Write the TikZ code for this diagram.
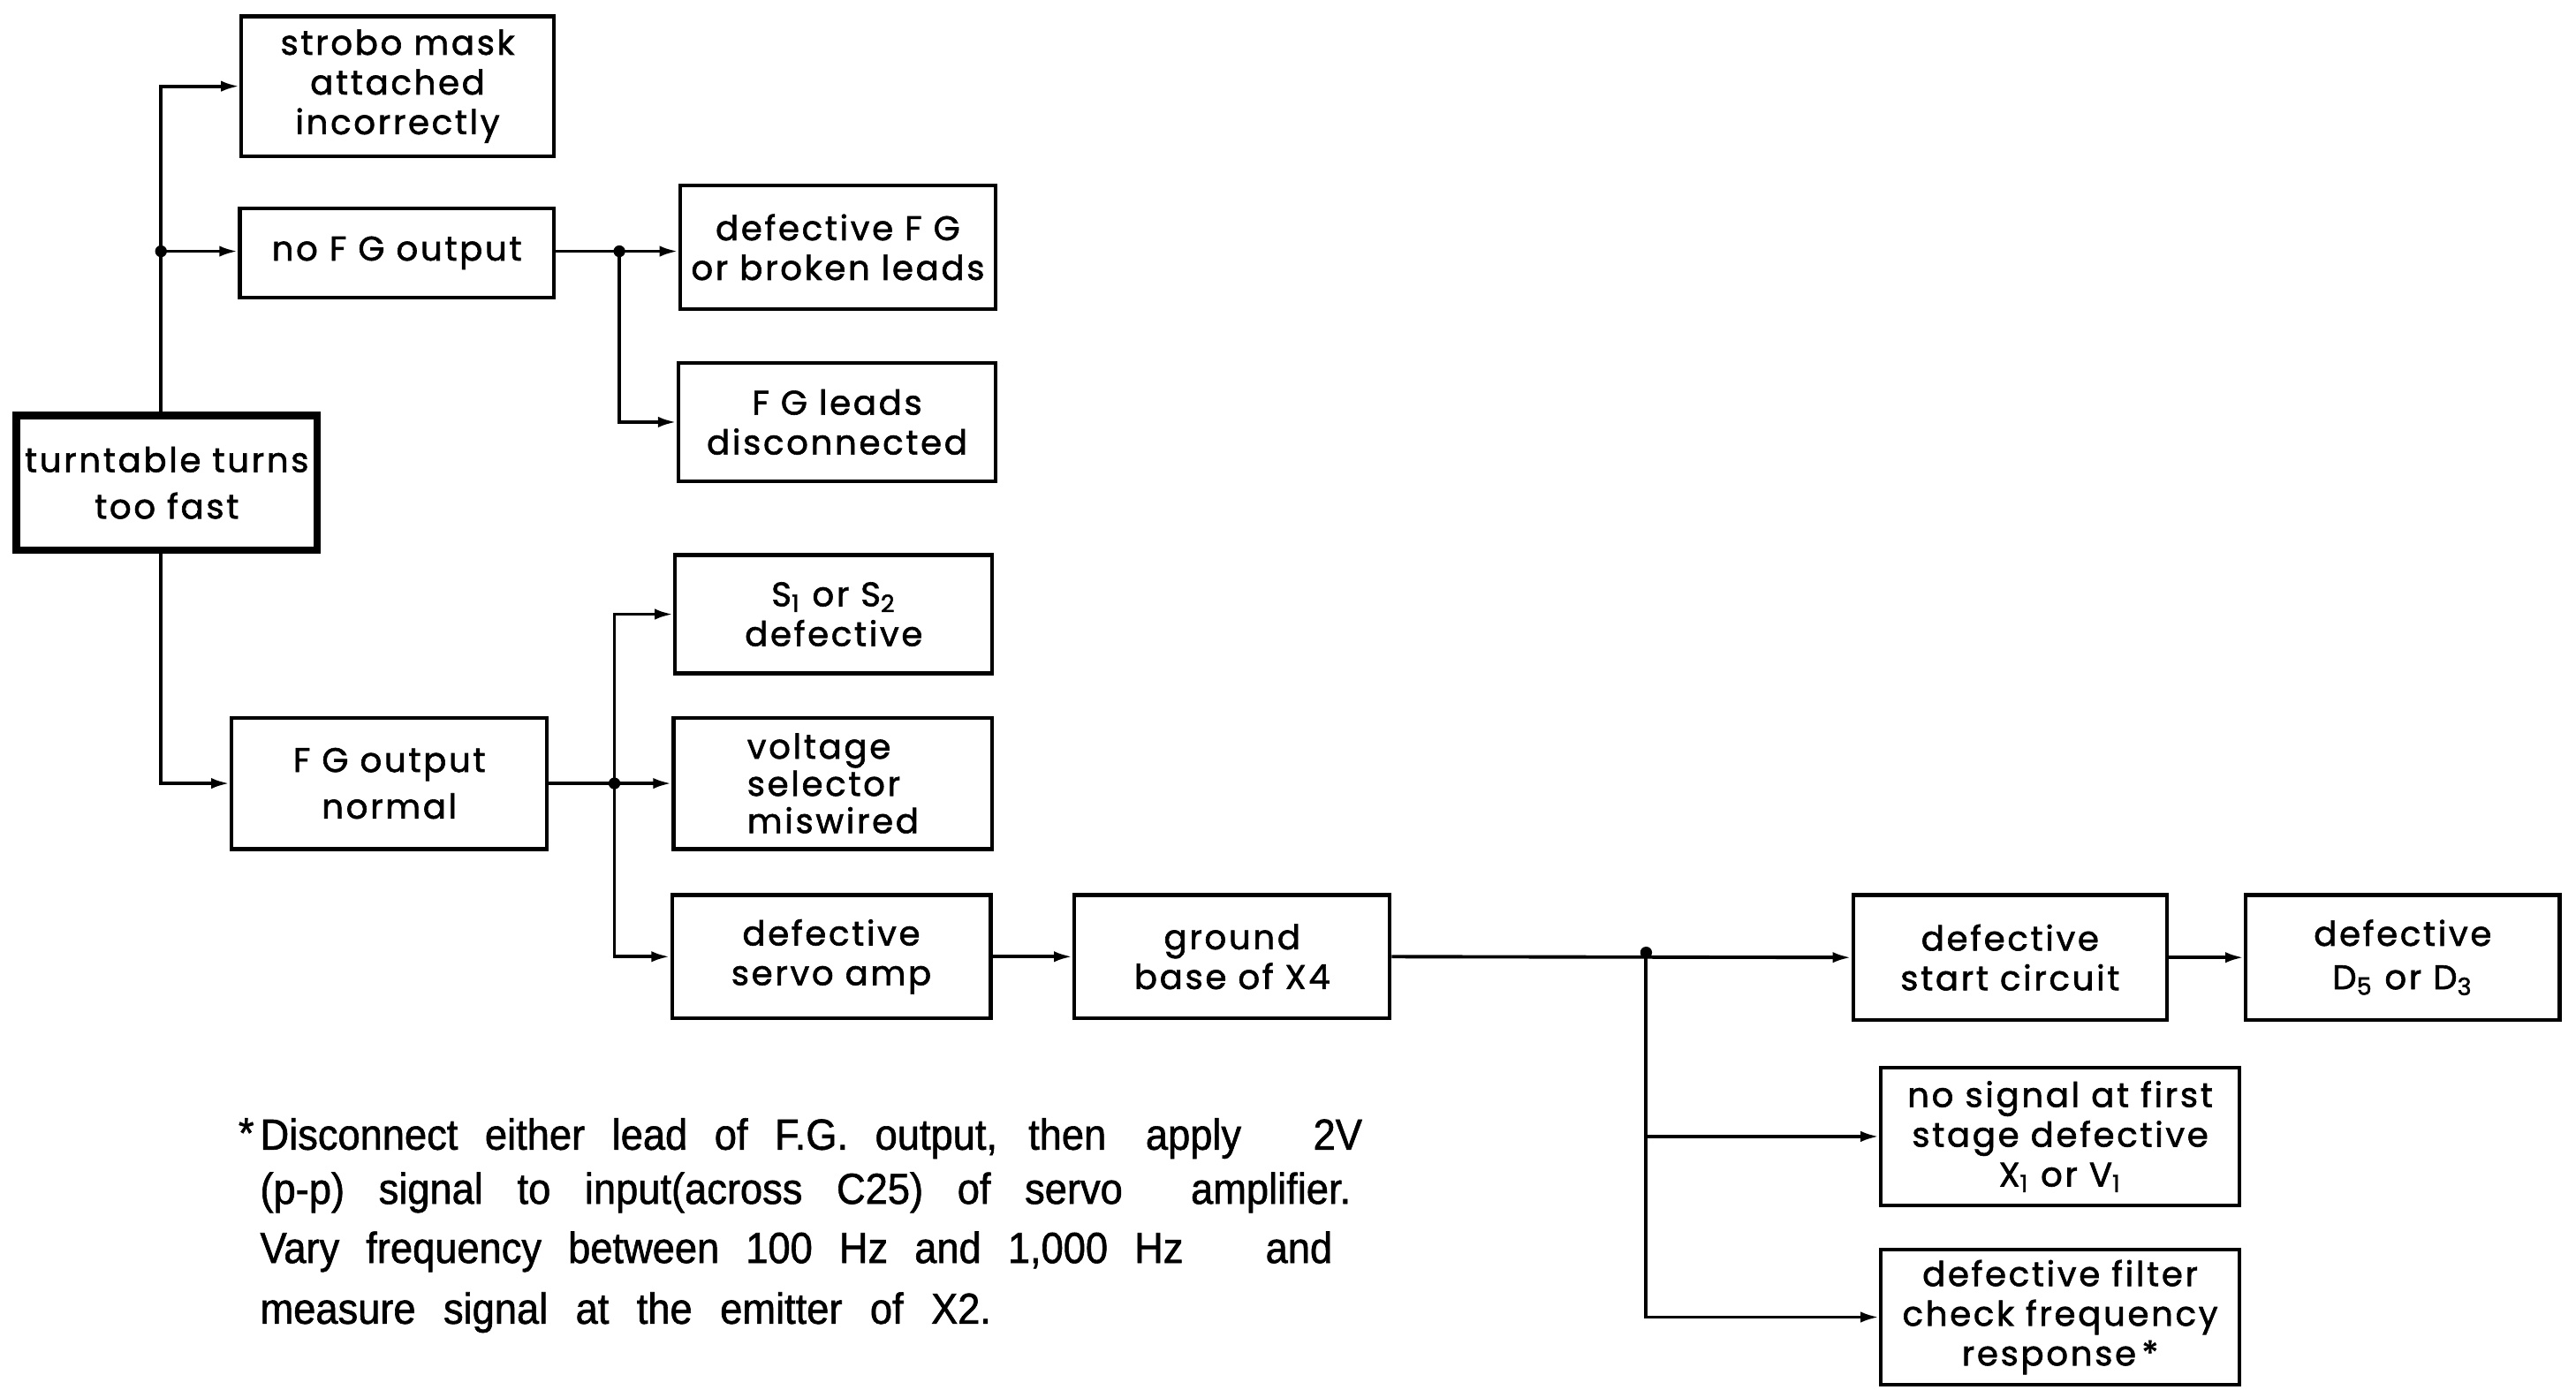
\documentclass[tikz,border=0pt]{standalone}
\usepackage{fontspec}
\setmainfont{Poppins}[FakeBold=1.6, LetterSpace=7]
\newfontfamily\notefont{Liberation Sans}[FakeStretch=0.92, FakeBold=1.2]
\usetikzlibrary{arrows.meta}
\tikzset{
  bx/.style 2 args={draw, line width=1.2pt, minimum width=#1*0.0186cm, minimum height=#2*0.0186cm,
    inner sep=1pt, align=center, font=\fontsize{11}{12.8}\selectfont},
  arr/.style={line width=1.1pt, -{Latex[length=6pt,width=3.5pt]}},
  jdot/.style={circle, fill, inner sep=0pt, minimum size=3.8pt},
  noteline/.style={anchor=base west, inner sep=0pt, font=\notefont\fontsize{14}{16}\selectfont}
}
\begin{document}
\begin{tikzpicture}[x=0.0186cm, y=-0.0186cm]
\useasboundingbox (0,0) rectangle (1568,846);
% nodes
\node[bx={183}{82}, line width=2.4pt, font=\fontsize{11}{15}\selectfont] (root) at (101.5,294) {turntable turns\\too fast};
\node[bx={190}{85}] (strobo) at (242,52.5) {strobo mask\\attached\\incorrectly};
\node[bx={191}{54}] (nofg) at (241.5,154) {no F G output};
\node[bx={192}{75}] (deffg) at (510,150.5) {defective F G\\or broken leads};
\node[bx={193}{72}] (fgleads) at (509.5,257) {F G leads\\disconnected};
\node[bx={193}{72}] (sw) at (507.5,374) {S\textsubscript{1} or S\textsubscript{2}\\defective};
\node[bx={194}{80}, align=left, font=\fontsize{11}{12}\selectfont] (volt) at (507,477) {voltage\\selector\\miswired};
\node[bx={194}{75}] (servo) at (506,582.5) {defective\\servo amp};
\node[bx={192}{80}, font=\fontsize{11}{15}\selectfont] (fgnorm) at (237,477) {F G output\\normal};
\node[bx={192}{75}] (ground) at (750,582.5) {ground\\base of X4};
\node[bx={191}{76}] (start) at (1223.5,583) {defective\\start circuit};
\node[bx={191}{76}, font=\fontsize{11}{14}\selectfont] (diode) at (1462.5,583) {defective\\D\textsubscript{5} or D\textsubscript{3}};
\node[bx={218}{84}] (nosig) at (1254,692) {no signal at first\\stage defective\\X\textsubscript{1} or V\textsubscript{1}};
\node[bx={218}{82}] (filter) at (1254,802) {defective filter\\check frequency\\response\,*};
% junction coordinates
\coordinate (jA) at (98,153);
\coordinate (jB) at (377,153);
\coordinate (jC) at (374,477);
\coordinate (jD) at (1002,580);
% connectors
\draw[arr] (root.north -| jA) |- (strobo.west);
\draw[arr] (jA) -- (nofg.west |- jA);
\draw[arr] (root.south -| jA) |- (fgnorm.west);
\draw[arr] (nofg.east |- jB) -- (deffg.west |- jB);
\draw[arr] (jB) |- (fgleads.west);
\draw[arr] (fgnorm.east) -- (volt.west);
\draw[arr] (jC) |- (sw.west);
\draw[arr] (jC) |- (servo.west);
\draw[arr] (servo.east) -- (ground.west);
\draw[arr] (ground.east) -- (start.west);
\draw[arr] (jD) |- (nosig.west);
\draw[arr] (jD) |- (filter.west);
\draw[arr] (start.east) -- (diode.west);
\node[jdot] at (jA) {};
\node[jdot] at (jB) {};
\node[jdot] at (jC) {};
\node[jdot] at (jD) {};
% footnote
\node[noteline, anchor=base east] (star) at (155,699) {*};
\node[noteline] (n1a) at (158,700) {\makebox[9.579cm][s]{Disconnect either lead of F.G. output, then}};
\node[noteline] (n1b) at (697,700) {apply};
\node[noteline] (n1c) at (799,700) {2V};
\node[noteline] (n2) at (158,733) {\makebox[12.35cm][s]{(p-p) signal to input(across C25) of servo \ amplifier.}};
\node[noteline] (n3a) at (158,769) {\makebox[10.453cm][s]{Vary frequency between 100 Hz and 1,000 Hz}};
\node[noteline] (n3b) at (770,769) {and};
\node[noteline] (n4) at (158,806) {\makebox[8.277cm][s]{measure signal at the emitter of X2.}};
\end{tikzpicture}
\end{document}
